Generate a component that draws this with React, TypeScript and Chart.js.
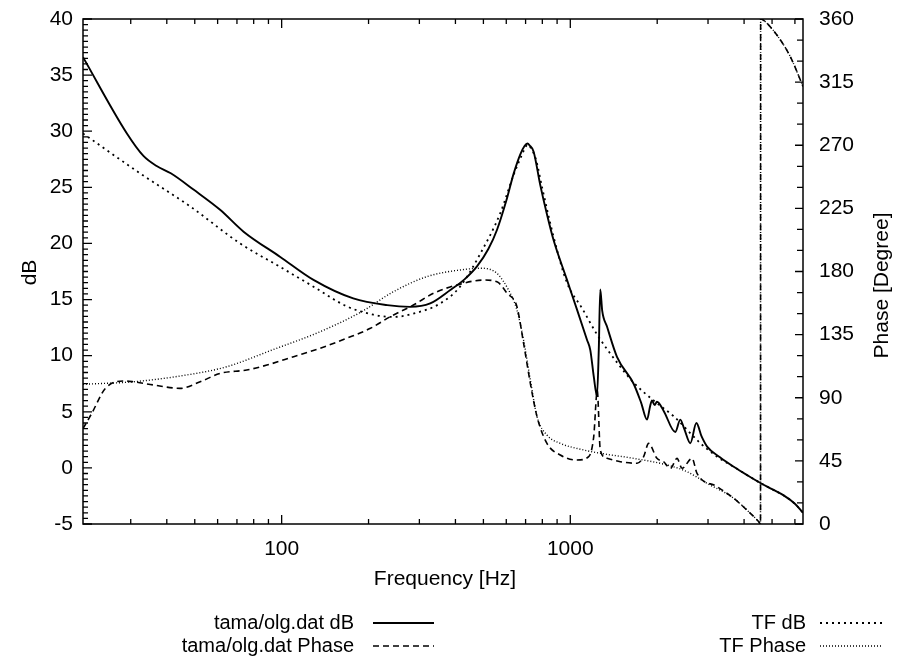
import React, { useEffect, useRef } from "react";
import { Chart, registerables } from "chart.js";

Chart.register(...registerables);

// ---------- data ----------
const olgDbFreq = [20.5, 29.1, 33.2, 36.9, 41.3, 49.5, 61.2, 73.8, 98.9, 128.9, 177, 232, 279, 327, 384, 430, 475, 520, 557, 600, 636, 670, 695, 710, 725, 746, 787, 830, 875, 974, 1055, 1143, 1173, 1205, 1237, 1255, 1270, 1290, 1340, 1451, 1657, 1760, 1845, 1890, 1919, 1960, 1996, 2104, 2311, 2405, 2480, 2605, 2734, 2850, 2978, 3300, 3683, 4100, 4556, 5000, 5486, 6000, 6400];
const olgDbValues = [36.6, 29.8, 27.8, 26.9, 26.25, 24.8, 23.0, 21.05, 18.8, 16.75, 15.1, 14.5, 14.35, 14.65, 15.85, 16.8, 17.95, 19.5, 21.2, 23.8, 26.2, 27.9, 28.7, 28.9, 28.7, 28.2, 25.2, 22.6, 20.3, 16.75, 14.1, 11.4, 10.5, 8.2, 6.4, 10.5, 15.9, 14.0, 12.6, 9.9, 7.5, 5.8, 4.3, 5.5, 6.0, 5.6, 5.9, 5.1, 3.2, 4.3, 3.5, 2.2, 4.0, 2.8, 1.9, 0.95, 0.1, -0.65, -1.35, -1.9, -2.45, -3.2, -4.0];

const olgPhaseFreq = [20.5, 22, 24.5, 28.7, 30.6, 36, 44.5, 52.2, 61.2, 75.7, 88.9, 110, 136, 168, 203, 238, 286, 336, 405, 501, 557, 604, 653, 689, 727, 767, 830, 923, 1055, 1158, 1205, 1240, 1270, 1340, 1490, 1703, 1795, 1868, 1996, 2104, 2223, 2343, 2438, 2640, 2748, 3225, 3683, 4207, 4497, 4560, 4565, 4742, 5345, 5789, 6400];
const olgPhaseValues = [68, 79, 96.7, 101.9, 101.4, 99.1, 96.7, 101.4, 107.4, 109.8, 113.3, 119.3, 125.3, 132.4, 139.5, 147.8, 156.1, 164.5, 170.4, 173.9, 172.7, 164.5, 155, 128.8, 100.3, 76.5, 57.5, 49.2, 45.6, 48, 62, 95, 52.8, 46.8, 44.4, 43.3, 48, 57.5, 46.8, 44.4, 39.7, 46.8, 39.7, 46.8, 36.1, 26.6, 18.3, 7.6, 1.6, 0, 360, 358, 345, 333, 312];

const tfDbFreq = [20.5, 32.3, 48.2, 71.8, 98.9, 128.9, 168, 208, 244, 286, 354, 415, 488, 572, 636, 680, 700, 712, 730, 760, 800, 875, 974, 1100, 1237, 1451, 1657, 1944, 2281, 2822, 3225, 3683, 4100, 4556, 5000, 5486, 6000, 6400];
const tfDbValues = [29.8, 26.25, 23.3, 20.0, 17.9, 16.15, 14.4, 13.65, 13.45, 13.75, 14.65, 16.15, 19.1, 22.7, 26.1, 27.9, 28.6, 28.8, 28.5, 27.5, 24.9, 20.6, 16.5, 14.2, 11.9, 9.4, 7.6, 6.0, 4.6, 2.2, 1.0, 0.1, -0.65, -1.35, -1.9, -2.45, -3.2, -4.0];

const tfPhaseFreq = [20.5, 30.6, 44.5, 64.5, 92.5, 136, 189, 244, 318, 415, 494, 557, 611, 650, 689, 727, 767, 830, 923, 1111, 1270, 1657, 2162, 2537, 2978, 3683, 4207, 4497, 4560, 4565, 4742, 5345, 5789, 6400];
const tfPhaseValues = [99.6, 101.4, 105.5, 112.1, 124, 137.1, 151.3, 165.6, 176.3, 181.1, 182.3, 178.7, 166.8, 154, 131, 102.7, 76.5, 63.4, 57.5, 52.8, 50.4, 46.8, 42.1, 37.3, 29.0, 18.3, 7.6, 1.6, 0, 360, 358, 345, 333, 312];

const seriesLabels = ["tama/olg.dat dB", "tama/olg.dat Phase", "TF dB", "TF Phase"];
const xTickValues = [100, 1000];
const xMinorTicks = [30, 40, 50, 60, 70, 80, 90, 200, 300, 400, 500, 600, 700, 800, 900, 2000, 3000, 4000, 5000, 6000];
const xTitle = "Frequency [Hz]";
const yTitle = "dB";
const y2Title = "Phase [Degree]";

const FONT = '"Liberation Sans", Arial, Helvetica, sans-serif';
const FONT_SIZE = 21;
const LEGEND_FONT_SIZE = 20;

const toPoints = (fs: number[], vs: number[]) => fs.map((f, i) => ({ x: f, y: vs[i] }));

const gnuFrame = {
  id: "gnuFrame",
  afterDatasetsDraw(chart: any) {
    const { ctx, chartArea: a, scales } = chart;
    const x = scales.x;
    const yl = scales.y;
    const yr = scales.y2;
    ctx.save();
    ctx.strokeStyle = "#000";
    ctx.lineWidth = 1.5;
    ctx.strokeRect(a.left, a.top, a.right - a.left, a.bottom - a.top);

    ctx.lineWidth = 1.3;
    ctx.beginPath();
    const tickX = (v: number, len: number) => {
      const px = x.getPixelForValue(v);
      ctx.moveTo(px, a.bottom);
      ctx.lineTo(px, a.bottom - len);
      ctx.moveTo(px, a.top);
      ctx.lineTo(px, a.top + len);
    };
    xTickValues.forEach((v) => tickX(v, 9));
    xMinorTicks.forEach((v) => tickX(v, 5));
    for (let i = 0; i <= 90; i++) {
      const py = yl.getPixelForValue(-5 + i * 0.5);
      const len = i % 10 === 0 ? 9 : 5;
      ctx.moveTo(a.left, py);
      ctx.lineTo(a.left + len, py);
    }
    for (let i = 0; i <= 24; i++) {
      const py = yr.getPixelForValue(i * 15);
      const len = i % 3 === 0 ? 8 : 6;
      ctx.moveTo(a.right, py);
      ctx.lineTo(a.right - len, py);
    }
    ctx.stroke();

    // axis titles
    ctx.fillStyle = "#000";
    ctx.font = `${FONT_SIZE}px ${FONT}`;
    ctx.textAlign = "center";
    ctx.textBaseline = "middle";
    ctx.fillText(xTitle, (a.left + a.right) / 2 + 2, a.bottom + 55);
    ctx.save();
    ctx.translate(30, (a.top + a.bottom) / 2 + 1);
    ctx.rotate(-Math.PI / 2);
    ctx.fillText(yTitle, 0, 0);
    ctx.restore();
    ctx.save();
    ctx.translate(882, (a.top + a.bottom) / 2 + 14);
    ctx.rotate(-Math.PI / 2);
    ctx.fillText(y2Title, 0, 0);
    ctx.restore();

    // legend (gnuplot style)
    ctx.font = `${LEGEND_FONT_SIZE}px ${FONT}`;
    const rows = [a.bottom + 99, a.bottom + 122];
    const cols = [
      { textRight: 354, x1: 373, x2: 434 },
      { textRight: 806, x1: 820, x2: 882 },
    ];
    chart.data.datasets.forEach((ds: any, i: number) => {
      const c = cols[Math.floor(i / 2)];
      const y = rows[i % 2];
      ctx.textAlign = "right";
      ctx.textBaseline = "middle";
      ctx.fillText(ds.label, c.textRight, y);
      ctx.beginPath();
      ctx.setLineDash(ds.borderDash || []);
      ctx.lineWidth = ds.borderWidth;
      ctx.moveTo(c.x1, y);
      ctx.lineTo(c.x2, y);
      ctx.stroke();
    });
    ctx.restore();
  },
};

export default function App() {
  const ref = useRef<HTMLCanvasElement | null>(null);
  useEffect(() => {
    if (!ref.current) return;
    const common = { pointRadius: 0, fill: false, borderColor: "#000", cubicInterpolationMode: "monotone" };
    const chart = new Chart(ref.current, {
      type: "line",
      data: {
        datasets: [
          { ...common, label: seriesLabels[0], data: toPoints(olgDbFreq, olgDbValues), yAxisID: "y", borderWidth: 1.9, borderDash: [] },
          { ...common, label: seriesLabels[1], data: toPoints(olgPhaseFreq, olgPhaseValues), yAxisID: "y2", borderWidth: 1.6, borderDash: [6, 4] },
          { ...common, label: seriesLabels[2], data: toPoints(tfDbFreq, tfDbValues), yAxisID: "y", borderWidth: 1.8, borderDash: [2, 4] },
          { ...common, label: seriesLabels[3], data: toPoints(tfPhaseFreq, tfPhaseValues), yAxisID: "y2", borderWidth: 1.4, borderDash: [1, 2] },
        ] as any,
      },
      options: {
        responsive: false,
        animation: false,
        layout: { padding: { top: 19, left: 0, right: 0, bottom: 0 } },
        plugins: { legend: { display: false }, tooltip: { enabled: false } },
        scales: {
          x: {
            type: "logarithmic",
            min: 20.5,
            max: 6400,
            grid: { display: false, drawTicks: false },
            border: { display: false },
            afterBuildTicks: (s: any) => {
              s.ticks = xTickValues.map((v) => ({ value: v }));
            },
            afterFit: (s: any) => {
              s.height = 141;
              s.paddingLeft = 0;
              s.paddingRight = 0;
            },
            ticks: {
              autoSkip: false,
              maxRotation: 0,
              padding: 13,
              color: "#000",
              font: { family: FONT, size: FONT_SIZE },
              callback: (v: any) => String(v),
            },
          },
          y: {
            type: "linear",
            position: "left",
            min: -5,
            max: 40,
            grid: { display: false, drawTicks: false },
            border: { display: false },
            afterFit: (s: any) => {
              s.width = 83;
              s.paddingTop = 0;
              s.paddingBottom = 0;
            },
            ticks: { stepSize: 5, padding: 10, color: "#000", font: { family: FONT, size: FONT_SIZE } },
          },
          y2: {
            type: "linear",
            position: "right",
            min: 0,
            max: 360,
            grid: { display: false, drawTicks: false },
            border: { display: false },
            afterFit: (s: any) => {
              s.width = 97;
              s.paddingTop = 0;
              s.paddingBottom = 0;
            },
            ticks: { stepSize: 45, padding: 16, color: "#000", font: { family: FONT, size: FONT_SIZE } },
          },
        },
      } as any,
      plugins: [gnuFrame],
    });
    return () => chart.destroy();
  }, []);
  return (
    <div style={{ position: "fixed", left: 0, top: 0, width: 900, height: 665, background: "#fff" }}>
      <canvas ref={ref} width={900} height={665} style={{ display: "block" }} />
    </div>
  );
}
